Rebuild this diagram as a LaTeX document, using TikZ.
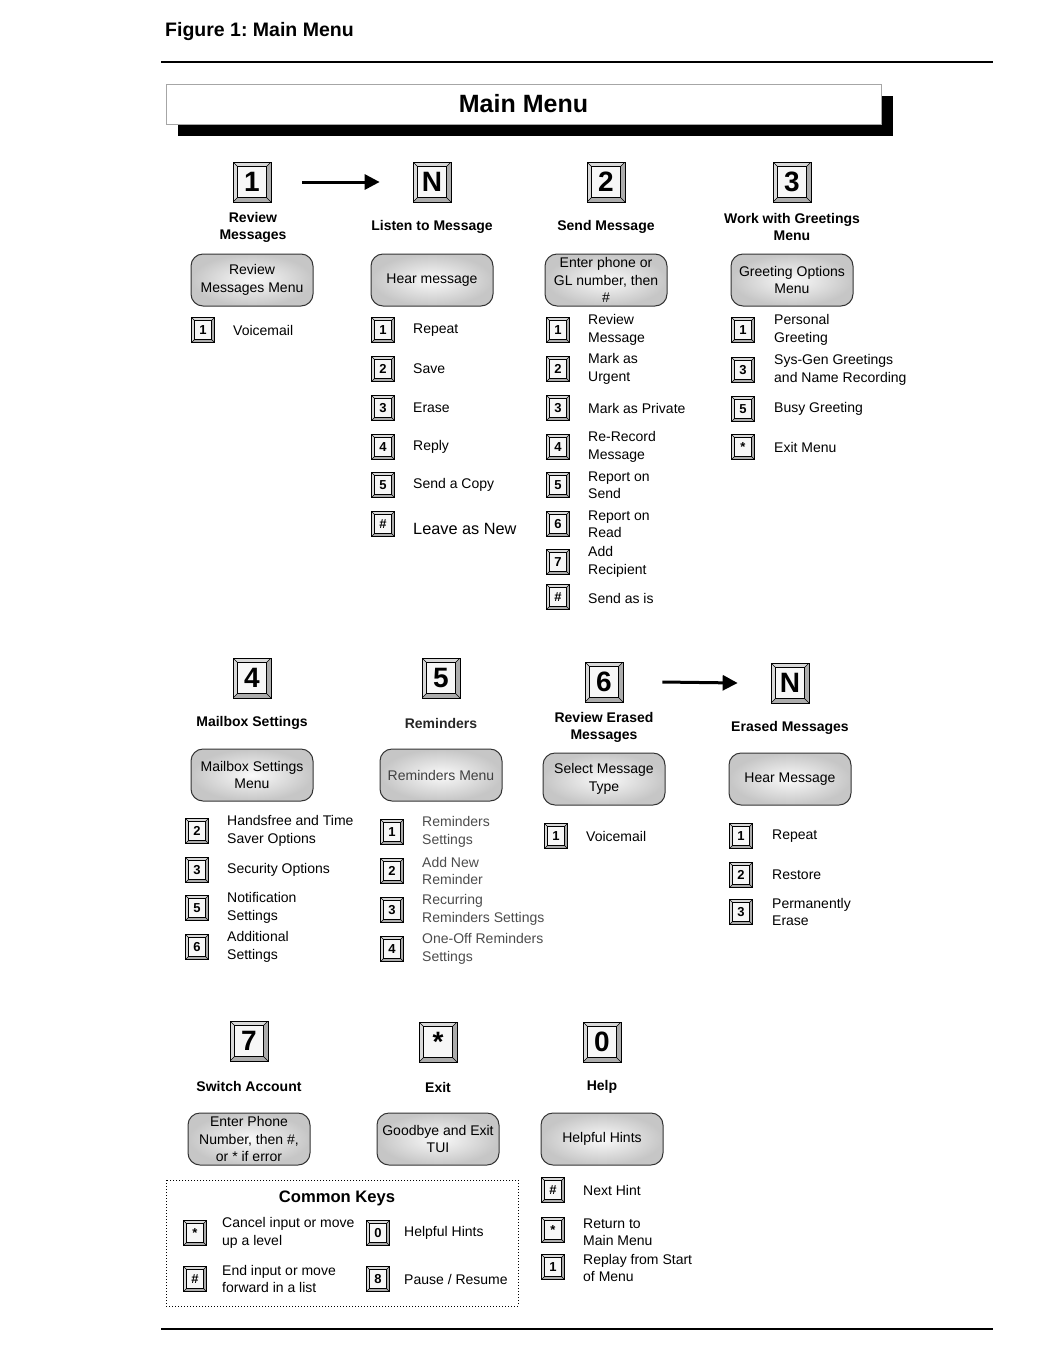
\documentclass[tikz,border=0pt]{standalone}
\usepackage{fontspec}
\setmainfont{Liberation Sans}
\usetikzlibrary{arrows.meta}
\frenchspacing

\tikzset{
  key/.style={draw=black, line width=0.7pt, fill=gray!30, inner sep=0pt,
    path picture={
      \fill[gray!65] (path picture bounding box.south west) -- ([shift={(#1,#1)}]path picture bounding box.south west)
        -- ([shift={(-#1,#1)}]path picture bounding box.south east) -- ([shift={(-#1,-#1)}]path picture bounding box.north east)
        -- (path picture bounding box.north east) -- (path picture bounding box.south east) -- cycle;
      \draw[line width=0.5pt, fill=gray!6] ([shift={(#1,#1)}]path picture bounding box.south west)
        rectangle ([shift={(-#1,-#1)}]path picture bounding box.north east);
      \draw[line width=0.5pt] (path picture bounding box.south west) -- ++(#1,#1)
        (path picture bounding box.north west) -- ++(#1,-#1)
        (path picture bounding box.north east) -- ++(-#1,-#1)
        (path picture bounding box.south east) -- ++(-#1,#1);
    }},
  bigkey/.style={key=4.5pt, minimum width=38pt, minimum height=40pt,
    font=\fontsize{28}{28}\selectfont\bfseries},
  smallkey/.style={key=3pt, minimum width=23pt, minimum height=25pt,
    font=\fontsize{13}{13}\selectfont\bfseries},
  keytitle/.style={align=center, font=\fontsize{14}{17}\selectfont\bfseries},
  menubox/.style={draw=black!80, line width=1pt, rounded corners=12pt,
    minimum width=122pt, minimum height=52pt, inner xsep=2pt, inner ysep=0pt,
    inner color=gray!4, outer color=gray!45, align=center,
    font=\fontsize{14}{17.5}\selectfont},
  itemtext/.style={anchor=west, align=left, inner sep=0pt,
    font=\fontsize{14}{17.5}\selectfont},
  dimtext/.style={itemtext, text=black!70},
  arrowline/.style={line width=3pt, -{Triangle[length=15pt,width=15pt]}},
}

\begin{document}
\begin{tikzpicture}[x=1pt, y=-1pt]
    \useasboundingbox (0,0) rectangle (1044,1366);
    % heading and rules
    \node[anchor=west, inner sep=0pt, font=\fontsize{19.5}{20}\selectfont\bfseries] (fig) at (165,31) {Figure 1: Main Menu};
    \draw[line width=2pt] (161,62) -- (993,62);
    \draw[line width=2pt] (161,1329) -- (993,1329);
    \fill[black] (178,96) rectangle (893,136);
    \node[draw=gray!70, line width=1pt, fill=white, minimum width=715pt, minimum height=40pt, inner sep=0pt,
        font=\fontsize{25}{25}\selectfont\bfseries] (title) at (523.5,104) {Main Menu};

    % row 1
    \node[bigkey] (k1) at (252,182) {1};
    \node[keytitle] (t1) at (253,227) {Review\\Messages};
    \node[menubox] (m1) at (252,280) {Review\\Messages Menu};
    \node[smallkey] (k1a) at (203,330) {1};
    \node[itemtext] (i1a) at (233,330) {Voicemail};

    \node[bigkey] (kn) at (432,182) {N};
    \node[keytitle] (tn) at (432,227) {Listen to Message};
    \node[menubox] (mn) at (432,280) {Hear message};
    \node[smallkey] (kna) at (383,330) {1};
    \node[itemtext] (ina) at (413,330) {Repeat};
    \node[smallkey] (knb) at (383,369) {2};
    \node[itemtext] (inb) at (413,369) {Save};
    \node[smallkey] (knc) at (383,408) {3};
    \node[itemtext] (inc) at (413,408) {Erase};
    \node[smallkey] (knd) at (383,447) {4};
    \node[itemtext] (ind) at (413,447) {Reply};
    \node[smallkey] (kne) at (383,485) {5};
    \node[itemtext] (ine) at (413,485) {Send a Copy};
    \node[smallkey] (knf) at (383,524) {\#};
    \node[itemtext, font=\fontsize{16.3}{18}\selectfont] (inf) at (413,529) {Leave as New};
    \draw[arrowline] ([xshift=31pt]k1.east) -- ([xshift=-33pt]kn.west);

    \node[bigkey] (k2) at (606,182) {2};
    \node[keytitle] (t2) at (606,227) {Send Message};
    \node[menubox] (m2) at (606,280) {Enter phone or\\GL number, then\\\#};
    \node[smallkey] (k2a) at (558,330) {1};
    \node[itemtext] (i2a) at (588,330) {Review\\Message};
    \node[smallkey] (k2b) at (558,369) {2};
    \node[itemtext] (i2b) at (588,369) {Mark as\\Urgent};
    \node[smallkey] (k2c) at (558,408) {3};
    \node[itemtext] (i2c) at (588,408) {Mark as Private};
    \node[smallkey] (k2d) at (558,447) {4};
    \node[itemtext] (i2d) at (588,447) {Re-Record\\Message};
    \node[smallkey] (k2e) at (558,485) {5};
    \node[itemtext] (i2e) at (588,485) {Report on\\Send};
    \node[smallkey] (k2f) at (558,524) {6};
    \node[itemtext] (i2f) at (588,524) {Report on\\Read};
    \node[smallkey] (k2g) at (558,562) {7};
    \node[itemtext] (i2g) at (588,562) {Add\\Recipient};
    \node[smallkey] (k2h) at (558,597) {\#};
    \node[itemtext] (i2h) at (588,598) {Send as is};

    \node[bigkey] (k3) at (792,182) {3};
    \node[keytitle] (t3) at (792,227) {Work with Greetings\\Menu};
    \node[menubox] (m3) at (792,280) {Greeting Options\\Menu};
    \node[smallkey] (k3a) at (743,330) {1};
    \node[itemtext] (i3a) at (774,330) {Personal\\Greeting};
    \node[smallkey] (k3b) at (743,370) {3};
    \node[itemtext] (i3b) at (774,370) {Sys-Gen Greetings\\and Name Recording};
    \node[smallkey] (k3c) at (743,409) {5};
    \node[itemtext] (i3c) at (774,409) {Busy Greeting};
    \node[smallkey] (k3d) at (743,447) {*};
    \node[itemtext] (i3d) at (774,447) {Exit Menu};

    % row 2
    \node[bigkey] (k4) at (252,678) {4};
    \node[keytitle] (t4) at (252,723) {Mailbox Settings};
    \node[menubox] (m4) at (252,775) {Mailbox Settings\\Menu};
    \node[smallkey] (k4a) at (197,831) {2};
    \node[itemtext] (i4a) at (227,831) {Handsfree and Time\\Saver Options};
    \node[smallkey] (k4b) at (197,870) {3};
    \node[itemtext] (i4b) at (227,870) {Security Options};
    \node[smallkey] (k4c) at (197,908) {5};
    \node[itemtext] (i4c) at (227,908) {Notification\\Settings};
    \node[smallkey] (k4d) at (197,947) {6};
    \node[itemtext] (i4d) at (227,947) {Additional\\Settings};

    \node[bigkey] (k5) at (441,678) {5};
    \node[keytitle, text=black!85] (t5) at (441,723) {Reminders};
    \node[menubox, text=black!75] (m5) at (441,775) {Reminders Menu};
    \node[smallkey] (k5a) at (392,832) {1};
    \node[dimtext] (i5a) at (422,832) {Reminders\\Settings};
    \node[smallkey] (k5b) at (392,871) {2};
    \node[dimtext] (i5b) at (422,871) {Add New\\Reminder};
    \node[smallkey] (k5c) at (392,910) {3};
    \node[dimtext] (i5c) at (422,910) {Recurring\\Reminders Settings};
    \node[smallkey] (k5d) at (392,949) {4};
    \node[dimtext] (i5d) at (422,949) {One-Off Reminders\\Settings};

    \node[bigkey] (k6) at (604,682) {6};
    \node[keytitle] (t6) at (604,727) {Review Erased\\Messages};
    \node[menubox] (m6) at (604,779) {Select Message\\Type};
    \node[smallkey] (k6a) at (556,836) {1};
    \node[itemtext] (i6a) at (586,836) {Voicemail};

    \node[bigkey] (ke) at (790,683) {N};
    \node[keytitle] (te) at (790,728) {Erased Messages};
    \node[menubox] (me) at (790,779) {Hear Message};
    \node[smallkey] (kea) at (741,836) {1};
    \node[itemtext] (iea) at (772,836) {Repeat};
    \node[smallkey] (keb) at (741,875) {2};
    \node[itemtext] (ieb) at (772,875) {Restore};
    \node[smallkey] (kec) at (741,912) {3};
    \node[itemtext] (iec) at (772,912) {Permanently\\Erase};
    \draw[arrowline] ([xshift=39pt]k6.east) -- ([xshift=-33pt]ke.west);

    % row 3
    \node[bigkey] (k7) at (249,1041) {7};
    \node[keytitle] (t7) at (249,1086) {Switch Account};
    \node[menubox] (m7) at (249,1139) {Enter Phone\\Number, then \#,\\or * if error};

    \node[bigkey] (kx) at (438,1042) {*};
    \node[keytitle] (tx) at (438,1087) {Exit};
    \node[menubox] (mx) at (438,1139) {Goodbye and Exit\\TUI};

    \node[bigkey] (k0) at (602,1042) {0};
    \node[keytitle] (t0) at (602,1087) {Help};
    \node[menubox] (m0) at (602,1139) {Helpful Hints};
    \node[smallkey] (k0a) at (553,1190) {\#};
    \node[itemtext] (i0a) at (583,1190) {Next Hint};
    \node[smallkey] (k0b) at (553,1230) {*};
    \node[itemtext] (i0b) at (583,1232) {Return to\\Main Menu};
    \node[smallkey] (k0c) at (553,1267) {1};
    \node[itemtext] (i0c) at (583,1268) {Replay from Start\\of Menu};

    % common keys
    \draw[dotted, line width=1pt] (166,1180) rectangle (518,1306);
    \node[font=\fontsize{16.6}{17}\selectfont\bfseries] (ck) at (337,1198) {Common Keys};
    \node[smallkey] (cka) at (195,1233) {*};
    \node[itemtext] (ica) at (222,1233) {Cancel input or move\\up a level};
    \node[smallkey] (ckb) at (195,1279) {\#};
    \node[itemtext] (icb) at (222,1279) {End input or move\\forward in a list};
    \node[smallkey] (ckc) at (378,1233) {0};
    \node[itemtext] (icc) at (404,1233) {Helpful Hints};
    \node[smallkey] (ckd) at (378,1279) {8};
    \node[itemtext] (icd) at (404,1279) {Pause / Resume};
\end{tikzpicture}
\end{document}
